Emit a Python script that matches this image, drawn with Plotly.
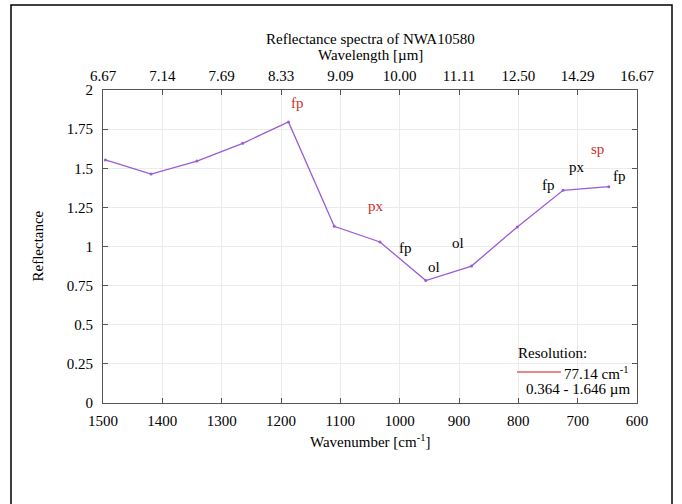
import plotly.graph_objects as go

# Spectrum samples (wavenumber in cm^-1, reflectance)
wavenumber = [1496.0, 1418.9, 1341.7, 1264.6, 1187.4, 1110.3,
              1033.2, 956.0, 878.9, 801.7, 724.6, 647.5]
reflectance = [1.553, 1.463, 1.546, 1.659, 1.796, 1.129,
               1.029, 0.782, 0.875, 1.125, 1.359, 1.382]

# Axis ticks
wn_ticks = [1500, 1400, 1300, 1200, 1100, 1000, 900, 800, 700, 600]
wl_labels = ["6.67", "7.14", "7.69", "8.33", "9.09", "10.00",
             "11.11", "12.50", "14.29", "16.67"]
refl_ticks = [0, 0.25, 0.5, 0.75, 1, 1.25, 1.5, 1.75, 2]
refl_labels = ["0", "0.25", "0.5", "0.75", "1", "1.25", "1.5", "1.75", "2"]

# Mineral band labels: text, wavenumber, reflectance, colour
band_text = ["fp", "px", "fp", "ol", "ol", "fp", "px", "sp", "fp"]
band_x = [1172.6, 1040.3, 991.0, 942.4, 901.5, 750.0, 701.5, 666.7, 630.3]
band_y = [1.917, 1.259, 0.992, 0.867, 1.020, 1.393, 1.510, 1.621, 1.452]
band_red = [True, True, False, False, False, False, False, True, False]

FONT = "Liberation Serif"
LINE = "#9b5bd6"
RED = "#d0302a"
AXIS = "#555555"
GRID = "#ebebeb"

fig = go.Figure()
fig.add_trace(go.Scatter(
    x=wavenumber, y=reflectance, mode="lines+markers",
    line=dict(color=LINE, width=1.3),
    marker=dict(color=LINE, size=3),
    showlegend=False, hoverinfo="skip",
))
# Companion trace so the top wavelength axis is drawn
fig.add_trace(go.Scatter(
    x=wavenumber, y=reflectance, xaxis="x2", mode="lines",
    line=dict(width=0), opacity=0, showlegend=False, hoverinfo="skip",
))

annotations = []
for t, x, y, r in zip(band_text, band_x, band_y, band_red):
    annotations.append(dict(
        x=x, y=y, xref="x", yref="y", text=t, showarrow=False,
        xanchor="center", yanchor="middle",
        font=dict(family=FONT, size=15, color=RED if r else "black"),
    ))

paper_w = 534.0
paper_h = 313.0

def px(xp):
    return (xp - 103) / paper_w

def py(yp):
    return (403 - yp) / paper_h

def label(x, y, text, xanchor="center", angle=0):
    return dict(x=x, y=y, xref="paper", yref="paper", showarrow=False,
                xanchor=xanchor, yanchor="middle", text=text,
                textangle=angle,
                font=dict(family=FONT, size=15, color="black"))

# Titles
annotations += [
    label(0.5, py(39), "Reflectance spectra of NWA10580"),
    label(0.5, py(55), "Wavelength [µm]"),
    label(0.5, py(441), "Wavenumber [cm<sup>-1</sup>]"),
    label(px(37), 0.5, "Reflectance", angle=-90),
]

# Resolution key
annotations += [
    label(px(552), py(353), "Resolution:"),
    label(px(562), py(373), "77.14 cm<sup>-1</sup>", xanchor="left"),
    label(px(632), py(389), "0.364 - 1.646 µm", xanchor="right"),
]

shapes = [
    dict(type="line", xref="paper", yref="paper",
         x0=px(517), x1=px(561), y0=py(372), y1=py(372),
         line=dict(color="#e06060", width=1.3)),
    # Outer frame
    dict(type="rect", xref="paper", yref="paper",
         x0=px(11), x1=px(672), y0=py(520), y1=py(5),
         line=dict(color="black", width=1.5), layer="above"),
]

axis_common = dict(
    showline=True, linecolor=AXIS, linewidth=1,
    ticks="inside", ticklen=5, tickcolor=AXIS,
    showgrid=True, gridcolor=GRID, gridwidth=1,
    zeroline=False,
    tickfont=dict(family=FONT, size=15, color="black"),
)

fig.update_layout(
    width=682, height=504,
    margin=dict(l=103, r=45, t=90, b=101),
    paper_bgcolor="white", plot_bgcolor="white",
    xaxis=dict(range=[1500, 600], tickvals=wn_ticks, mirror=True,
               ticklabelstandoff=4, **axis_common),
    xaxis2=dict(range=[1500, 600], overlaying="x", side="top",
                tickvals=wn_ticks, ticktext=wl_labels, anchor="y",
                ticklabelstandoff=2, **axis_common),
    yaxis=dict(range=[0, 2], tickvals=refl_ticks, ticktext=refl_labels,
               mirror="ticks", ticklabelstandoff=6, **axis_common),
    annotations=annotations,
    shapes=shapes,
)

fig.write_html("out.html")
